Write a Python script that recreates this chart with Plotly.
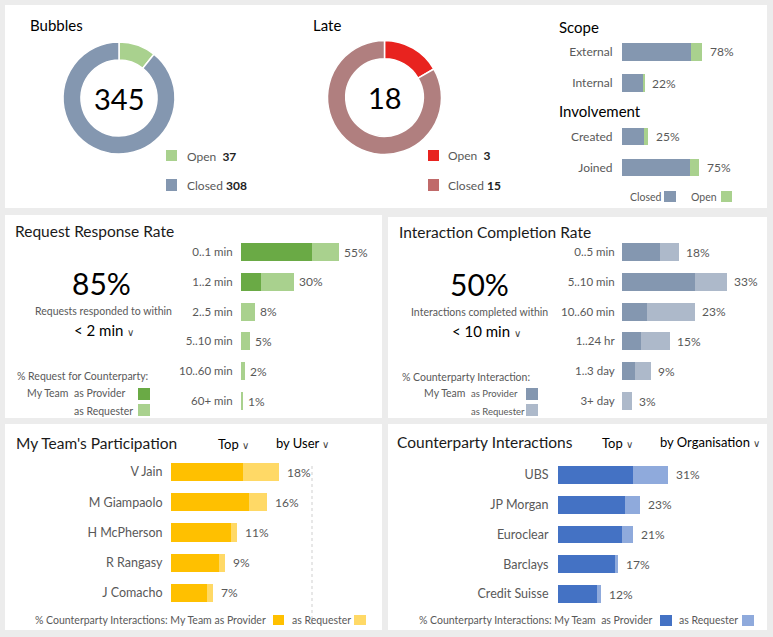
import plotly.graph_objects as go

W, H = 773, 637
FONT = "Lato"
GRAY = "#595959"
DARK = "#1a1a1a"

# ---------------- data ----------------
donut_labels = ["Open", "Closed"]
bubbles_values = [37, 308]
late_values = [3, 15]

scope_cats = ["External", "Internal"]
scope_closed = [68, 21]
scope_open = [10, 1]

inv_cats = ["Created", "Joined"]
inv_closed = [22, 67]
inv_open = [3, 8]

rrr_cats = ["0..1 min", "1..2 min", "2..5 min", "5..10 min", "10..60 min", "60+ min"]
rrr_provider = [40, 11, 0, 0, 0, 0]
rrr_requester = [15, 19, 8, 5, 2, 1]

icr_cats = ["0..5 min", "5..10 min", "10..60 min", "1..24 hr", "1..3 day", "3+ day"]
icr_provider = [12, 23, 8, 6, 4, 0]
icr_requester = [6, 10, 15, 9, 5, 3]

mtp_cats = ["V Jain", "M Giampaolo", "H McPherson", "R Rangasy", "J Comacho"]
mtp_provider = [12, 13, 10, 8, 6]
mtp_requester = [6, 3, 1, 1, 1]

ci_cats = ["UBS", "JP Morgan", "Euroclear", "Barclays", "Credit Suisse"]
ci_provider = [21, 19, 18, 16, 11]
ci_requester = [10, 4, 3, 1, 1]

# ---------------- colours ----------------
C_CLOSED = "#8497b0"
C_OPEN = "#a9d18e"
C_LATE_OPEN = "#e8231f"
C_LATE_CLOSED = "#b07f7f"
C_LATE_CLOSED_LEG = "#c06a6a"
C_GREEN_D = "#6aaa45"
C_GREEN_L = "#a9d18e"
C_SLATE_D = "#8497b0"
C_SLATE_L = "#adb9ca"
C_GOLD_D = "#ffc000"
C_GOLD_L = "#ffd966"
C_BLUE_D = "#4472c4"
C_BLUE_L = "#8faadc"

CHEV = "<span style='font-size:10px;color:#444'>\u2228</span>"

fig = go.Figure()
shapes = []
annotations = []


def px(x):
    return x / W


def py(y):
    return 1 - y / H


def rect(x0, y0, x1, y1, color, layer="below"):
    shapes.append(dict(type="rect", xref="paper", yref="paper",
                       x0=px(x0), x1=px(x1), y0=py(y1), y1=py(y0),
                       fillcolor=color, line=dict(width=0), layer=layer))


def txt(x, y, s, size, color=GRAY, xanchor="left"):
    annotations.append(dict(x=px(x), y=py(y), xref="paper", yref="paper", text=s,
                            showarrow=False, xanchor=xanchor, yanchor="middle",
                            font=dict(family=FONT, size=size, color=color)))


# ---------------- panels ----------------
rect(5, 5, 767, 208, "white")
rect(5, 215, 382, 418, "white")
rect(388, 217, 767, 418, "white")
rect(5, 424, 382, 630, "white")
rect(388, 424, 767, 630, "white")

# ---------------- donuts ----------------
def donut(values, colors, cx, cy, r):
    fig.add_trace(go.Pie(values=values, labels=donut_labels, hole=0.68, sort=False,
                         direction="clockwise", rotation=0, textinfo="none",
                         marker=dict(colors=colors, line=dict(color="white", width=1.5)),
                         domain=dict(x=[px(cx - r), px(cx + r)], y=[py(cy + r), py(cy - r)]),
                         showlegend=False, hoverinfo="label+value"))


donut(bubbles_values, [C_OPEN, C_CLOSED], 119, 98, 56)
donut(late_values, [C_LATE_OPEN, C_LATE_CLOSED], 384.5, 97.5, 57)

txt(28, 25, "Bubbles", 15, "#000")
txt(119, 98, str(sum(bubbles_values)), 29, "#000", "center")
rect(166, 150, 177, 161, C_OPEN, "above")
rect(166, 179, 177, 191, C_CLOSED, "above")
txt(185, 156, f"Open\u00a0\u00a0<span style='color:#222'><b>{bubbles_values[0]}</b></span>", 12)
txt(185, 185, f"Closed\u00a0<span style='color:#222'><b>{bubbles_values[1]}</b></span>", 12)

txt(311, 25, "Late", 15, "#000")
txt(384.5, 97.5, str(sum(late_values)), 29, "#000", "center")
rect(428, 150, 439, 161, C_LATE_OPEN, "above")
rect(428, 179, 439, 191, C_LATE_CLOSED_LEG, "above")
txt(446, 155, f"Open\u00a0\u00a0<span style='color:#222'><b>{late_values[0]}</b></span>", 12)
txt(446, 185, f"Closed\u00a0<span style='color:#222'><b>{late_values[1]}</b></span>", 12)

# ---------------- bar charts ----------------
layout_axes = {}


def bar_chart(n, cats, a, b, ca, cb, xdom, ydom, xrange, tick_size, standoff, lab_size, lab_shift, width=0.6):
    xa = "x" if n == 1 else f"x{n}"
    ya = "y" if n == 1 else f"y{n}"
    key = "" if n == 1 else str(n)
    for vals, col in ((a, ca), (b, cb)):
        fig.add_trace(go.Bar(x=vals, y=cats, orientation="h", xaxis=xa, yaxis=ya,
                             marker=dict(color=col, line=dict(width=0)), width=width,
                             showlegend=False, hoverinfo="x+y", cliponaxis=False))
    layout_axes["xaxis" + key] = dict(domain=[px(xdom[0]), px(xdom[1])], range=xrange,
                                      visible=False, fixedrange=True, anchor=ya)
    layout_axes["yaxis" + key] = dict(domain=[py(ydom[1]), py(ydom[0])], type="category",
                                      categoryorder="array", categoryarray=cats,
                                      range=[len(cats) - 0.5, -0.5], showgrid=False,
                                      zeroline=False, showline=False, ticks="outside",
                                      ticklen=standoff, tickcolor="rgba(0,0,0,0)",
                                      tickfont=dict(family=FONT, size=tick_size, color=GRAY),
                                      anchor=xa, fixedrange=True)
    for c, v1, v2 in zip(cats, a, b):
        tot = v1 + v2
        annotations.append(dict(x=tot, y=c, xref=xa, yref=ya, text=f"{tot}%", showarrow=False,
                                xanchor="left", yanchor="middle", xshift=lab_shift,
                                font=dict(family=FONT, size=lab_size, color=GRAY)))


bar_chart(1, scope_cats, scope_closed, scope_open, C_CLOSED, C_OPEN,
          (622, 724), (36.5, 98.5), [0, 100], 12, 6, 12, 6, width=0.58)
bar_chart(2, inv_cats, inv_closed, inv_open, C_CLOSED, C_OPEN,
          (622, 724), (121, 183), [0, 100], 12, 6, 12, 6, width=0.58)
bar_chart(3, rrr_cats, rrr_provider, rrr_requester, C_GREEN_D, C_GREEN_L,
          (241, 347.8), (237.1, 415.9), [0, 60], 11.5, 5, 12, 3)
bar_chart(4, icr_cats, icr_provider, icr_requester, C_SLATE_D, C_SLATE_L,
          (622, 748.8), (237.1, 415.9), [0, 40], 11.5, 4, 12, 5)
bar_chart(5, mtp_cats, mtp_provider, mtp_requester, C_GOLD_D, C_GOLD_L,
          (171, 321), (456.9, 608.1), [0, 25], 12.5, 5, 12, 6)
bar_chart(6, ci_cats, ci_provider, ci_requester, C_BLUE_D, C_BLUE_L,
          (558, 700), (460.1, 608.9), [0, 40], 12.5, 6, 12, 6)

# Scope / Involvement texts
txt(557, 27, "Scope", 15, "#000")
txt(557, 111, "Involvement", 15, "#000")
txt(628, 197, "Closed", 10.5)
rect(664, 191, 676, 202, C_CLOSED, "above")
txt(689, 197, "Open", 10.5)
rect(721, 191, 732, 202, C_OPEN, "above")

# Request Response Rate
txt(13, 231, "Request Response Rate", 15.5, DARK)
txt(101, 283, "85%", 30, "#000", "center")
txt(103, 311, "Requests responded to within", 10.5, GRAY, "center")
txt(104, 330, "< 2 min " + CHEV, 15, "#000", "center")
txt(15, 376, "% Request for Counterparty:", 10.5, GRAY)
txt(70, 393, "My Team", 10.5, GRAY, "right")
txt(72, 393, "as Provider", 10.5, GRAY)
txt(72, 411, "as Requester", 10.5, GRAY)
rect(138, 388, 150, 400, C_GREEN_D, "above")
rect(138, 404, 150, 416, C_GREEN_L, "above")

# Interaction Completion Rate
txt(397, 232, "Interaction Completion Rate", 15.5, DARK)
txt(480, 284, "50%", 30, "#000", "center")
txt(480, 312, "Interactions completed within", 10.5, GRAY, "center")
txt(486, 331, "< 10 min " + CHEV, 15, "#000", "center")
txt(400, 377, "% Counterparty Interaction:", 10.5, GRAY)
txt(467, 393, "My Team", 10.5, GRAY, "right")
txt(469, 393, "as Provider", 9.5, GRAY)
txt(469, 411, "as Requester", 9.5, GRAY)
rect(526, 388, 538, 400, C_SLATE_D, "above")
rect(526, 404, 538, 416, C_SLATE_L, "above")

# My Team's Participation
txt(14, 443, "My Team's Participation", 15.5, DARK)
txt(216, 444, "Top " + CHEV, 13, "#000")
txt(274, 443, "by User " + CHEV, 13, "#000")
txt(268, 620, "% Counterparty Interactions: My Team as Provider", 10.5, GRAY, "right")
rect(273, 615, 284, 625, C_GOLD_D, "above")
txt(290, 620, "as Requester", 10.5, GRAY)
rect(354, 615, 366, 625, C_GOLD_L, "above")
shapes.append(dict(type="line", xref="paper", yref="paper", x0=px(312), x1=px(312),
                   y0=py(625), y1=py(464), line=dict(color="#cfcfcf", width=1, dash="dot")))

# Counterparty Interactions
txt(395, 442, "Counterparty Interactions", 15.5, DARK)
txt(600, 443, "Top " + CHEV, 13, "#000")
txt(658, 442, "by Organisation " + CHEV, 13, "#000")
txt(655, 620, "% Counterparty Interactions: My Team\u00a0 as Provider", 10.5, GRAY, "right")
rect(660, 615, 672, 626, C_BLUE_D, "above")
txt(677, 620, "as Requester", 10.5, GRAY)
rect(742, 615, 754, 626, C_BLUE_L, "above")

fig.update_layout(
    width=W, height=H, margin=dict(l=0, r=0, t=0, b=0),
    paper_bgcolor="#ececec", plot_bgcolor="rgba(0,0,0,0)",
    barmode="stack", bargap=0.4, showlegend=False,
    shapes=shapes, annotations=annotations,
    font=dict(family=FONT, color=GRAY),
    **layout_axes,
)

fig.write_html("out.html", config={"displayModeBar": False},
               post_script="document.body.style.margin='0';document.body.style.overflow='hidden';")
